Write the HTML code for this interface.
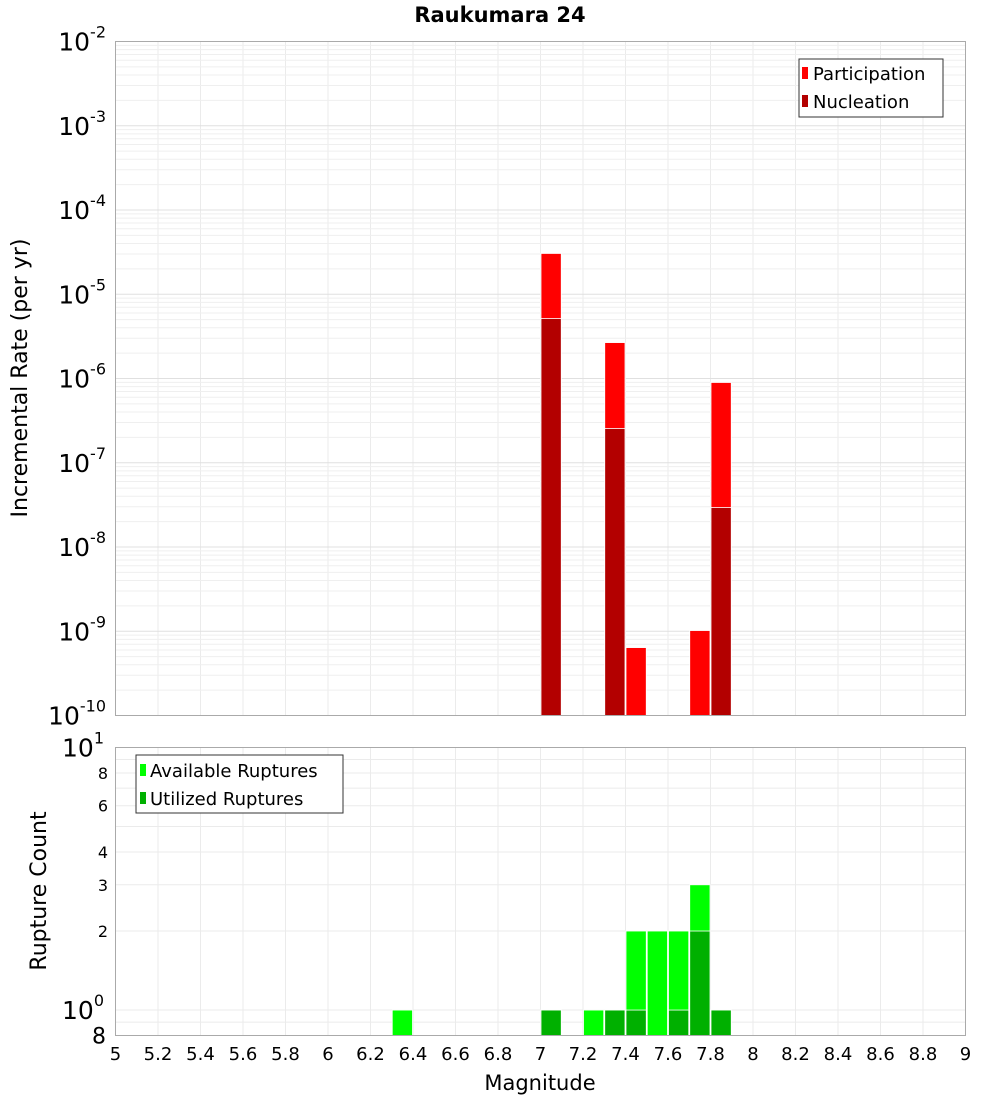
<!DOCTYPE html>
<html><head><meta charset="utf-8"><style>
body{margin:0;background:#fff;font-family:"Liberation Sans","DejaVu Sans",sans-serif}
svg text{font-family:"DejaVu Sans","Liberation Sans",sans-serif}
</style></head><body>
<svg id="c" width="1000" height="1100" xmlns="http://www.w3.org/2000/svg">
<text x="500" y="22" text-anchor="middle" font-size="21" font-weight="bold">Raukumara 24</text>
<text transform="translate(27,378) rotate(-90)" text-anchor="middle" font-size="22">Incremental Rate (per yr)</text>
<text transform="translate(46,891) rotate(-90)" text-anchor="middle" font-size="22">Rupture Count</text>
<text x="540" y="1090" text-anchor="middle" font-size="21">Magnitude</text>
<g id="grid"></g><g id="bars"></g><g id="axes"></g>
<g>
<rect x="799" y="59" width="144" height="58" fill="#fff" stroke="#333"/>
<rect x="802" y="67" width="6" height="12" fill="#ff0000"/><text x="813" y="80" font-size="18">Participation</text>
<rect x="802" y="95" width="6" height="12" fill="#b30000"/><text x="813" y="108" font-size="18">Nucleation</text>
</g>
<g>
<rect x="136" y="755" width="207" height="58" fill="#fff" stroke="#333"/>
<rect x="140" y="764" width="6" height="12" fill="#00ff00"/><text x="150" y="777" font-size="18">Available Ruptures</text>
<rect x="140" y="792" width="6" height="12" fill="#00b000"/><text x="150" y="805" font-size="18">Utilized Ruptures</text>
</g>
</svg>
<script>
const mags=[6.35,7.05,7.25,7.35,7.45,7.55,7.65,7.75,7.85];
const participation=[0,3.05e-5,0,2.67e-6,6.4e-10,0,0,1.02e-9,8.97e-7];
const nucleation=[0,5.15e-6,0,2.55e-7,0,0,0,0,2.94e-8];
const available=[1,1,1,1,2,2,2,3,1];
const utilized=[0,1,0,1,1,0,1,2,1];
const xTicks=[5,5.2,5.4,5.6,5.8,6,6.2,6.4,6.6,6.8,7,7.2,7.4,7.6,7.8,8,8.2,8.4,8.6,8.8,9];
const NS='http://www.w3.org/2000/svg';
const L=115.5,R=965.5,T1=41.5,B1=715.5,T2=747.5,B2=1035.5;
const X=m=>L+(m-5)/4*(R-L);
const Y1=v=>T1+(-2-Math.log10(v))/8*(B1-T1);
const Y2=v=>T2+(1-Math.log10(v))/(1-Math.log10(0.8))*(B2-T2);
function el(p,t,a){const e=document.createElementNS(NS,t);for(const k in a)e.setAttribute(k,a[k]);p.appendChild(e);return e;}
const grid=document.getElementById('grid'),bars=document.getElementById('bars'),axes=document.getElementById('axes');
el(grid,'rect',{x:L,y:T1,width:R-L,height:B1-T1,fill:'#fff'});
el(grid,'rect',{x:L,y:T2,width:R-L,height:B2-T2,fill:'#fff'});
for(const t of xTicks){const x=X(t);
 el(grid,'line',{x1:x,x2:x,y1:T1,y2:B1,stroke:'#ebebeb'});
 el(grid,'line',{x1:x,x2:x,y1:T2,y2:B2,stroke:'#ebebeb'});
 const tx=el(axes,'text',{x:x,y:1060,'text-anchor':'middle','font-size':18});tx.textContent=String(t);
 
 }
for(let d=-10;d<-2;d++)for(let k=1;k<10;k++){const y=Y1(k*Math.pow(10,d));
 el(grid,'line',{x1:L,x2:R,y1:y,y2:y,stroke:k==1?'#e0e0e0':'#efefef'});}
for(let d=-10;d<=-2;d++){const y=Y1(Math.pow(10,d));
 const t=el(axes,'text',{x:106,y:y+9,'text-anchor':'end','font-size':25});
 
 
 t.innerHTML='10<tspan dy="-13" font-size="16">'+d+'</tspan>';}
for(const v of [0.8,0.9,1,2,3,4,5,6,7,8,9,10]){const y=Y2(v);el(grid,'line',{x1:L,x2:R,y1:y,y2:y,stroke:'#ebebeb'});}
for(const v of [2,3,4,6,8]){const t=el(axes,'text',{x:108,y:Y2(v)+6,'text-anchor':'end','font-size':16});t.textContent=v;
 
 }
for(const [v,s] of [[1,'0'],[10,'1']]){const t=el(axes,'text',{x:104,y:Y2(v)+9,'text-anchor':'end','font-size':25});
 
 
 t.innerHTML='10<tspan dy="-13" font-size="16">'+s+'</tspan>';}
{const t=el(axes,'text',{x:106,y:B2+8,'text-anchor':'end','font-size':22});t.textContent='8';
 
 }
function bar(m,top,bot,fill,name){const x0=X(m-0.05),x1=X(m+0.05);
 const r=el(bars,'rect',{x:x0+0.5,y:top,width:x1-x0-1,height:bot-top,fill:fill,stroke:'#fff','stroke-width':0.8});
 
 }
mags.forEach((m,i)=>{
 if(participation[i]>0)bar(m,Y1(participation[i]),B1,'#ff0000','participation-bar');
 if(nucleation[i]>0)bar(m,Y1(nucleation[i]),B1,'#b30000','nucleation-bar');
 if(available[i]>0)bar(m,Y2(available[i]),B2,'#00ff00','available-bar');
 if(utilized[i]>0)bar(m,Y2(utilized[i]),B2,'#00b000','utilized-bar');
});
el(axes,'rect',{x:L,y:T1,width:R-L,height:B1-T1,fill:'none',stroke:'#aaa'});
el(axes,'rect',{x:L,y:T2,width:R-L,height:B2-T2,fill:'none',stroke:'#aaa'});
</script>
</body></html>
